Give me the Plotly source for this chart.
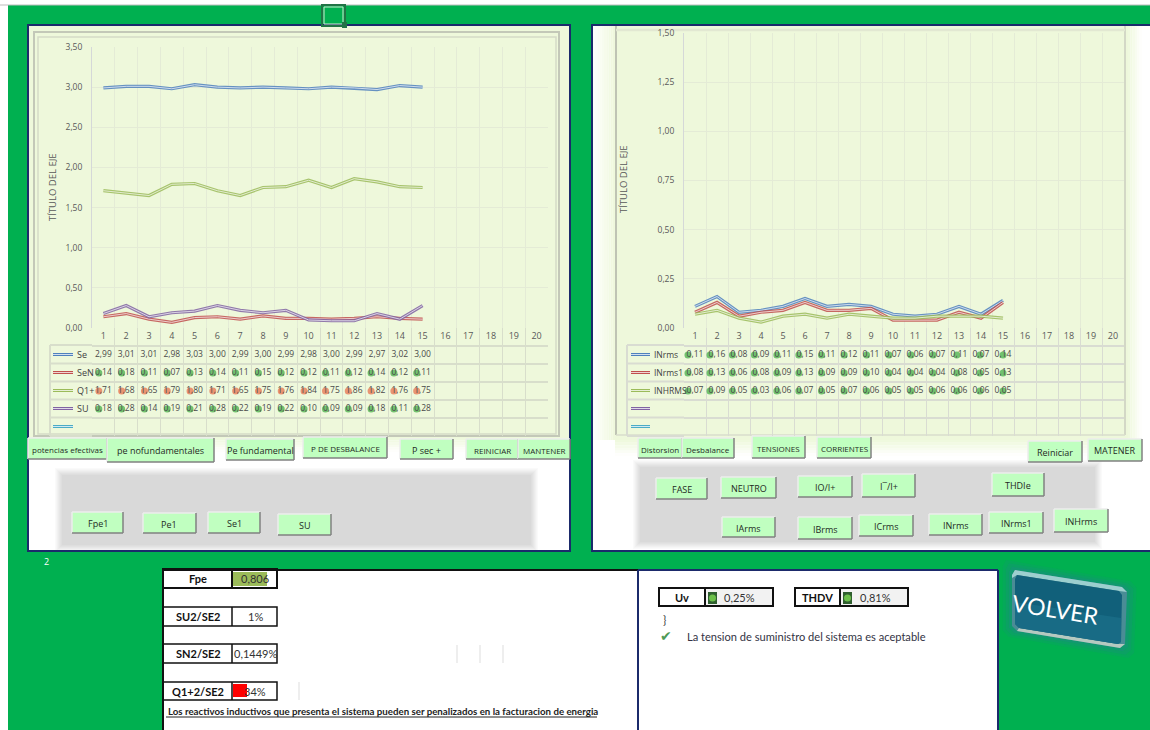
import plotly.graph_objects as go

W, H = 1150, 730
categories = list(range(1, 21))
header_labels = [str(c) for c in categories]
points = list(range(1, 16))

se = [2.99, 3.01, 3.01, 2.98, 3.03, 3.00, 2.99, 3.00, 2.99, 2.98, 3.00, 2.99, 2.97, 3.02, 3.00]
sen = [0.14, 0.18, 0.11, 0.07, 0.13, 0.14, 0.11, 0.15, 0.12, 0.12, 0.11, 0.12, 0.14, 0.12, 0.11]
q1 = [1.71, 1.68, 1.65, 1.79, 1.80, 1.71, 1.65, 1.75, 1.76, 1.84, 1.75, 1.86, 1.82, 1.76, 1.75]
su = [0.18, 0.28, 0.14, 0.19, 0.21, 0.28, 0.22, 0.19, 0.22, 0.10, 0.09, 0.09, 0.18, 0.11, 0.28]

inrms = [0.11, 0.16, 0.08, 0.09, 0.11, 0.15, 0.11, 0.12, 0.11, 0.07, 0.06, 0.07, 0.11, 0.07, 0.14]
inrms1 = [0.08, 0.13, 0.06, 0.08, 0.09, 0.13, 0.09, 0.09, 0.10, 0.04, 0.04, 0.04, 0.08, 0.05, 0.13]
inhrms = [0.07, 0.09, 0.05, 0.03, 0.06, 0.07, 0.05, 0.07, 0.06, 0.05, 0.05, 0.06, 0.06, 0.06, 0.05]

BLUE, RED, OLIVE, PURPLE, CYAN = "#4F81BD", "#C0504D", "#9BBB59", "#8064A2", "#4BACC6"
left_series = [("Se", se, BLUE, None), ("SeN", sen, RED, "#5CB85C"), ("Q1+", q1, OLIVE, "#E8835F"), ("SU", su, PURPLE, "#5CB85C")]
right_series = [("INrms", inrms, BLUE, "#5CB85C"), ("INrms1", inrms1, RED, "#5CB85C"), ("INHRMS", inhrms, OLIVE, "#5CB85C")]

GREEN, NAVY, PALE, BTN = "#00B050", "#1B2A6B", "#EEF8DB", "#C0FFC0"
FONT = "Open Sans"
CELL = "Lato"
shapes, notes = [], []


def X(x):
    return x / W


def Y(y):
    return 1 - y / H


def rect(x0, y0, x1, y1, fill=None, line=None, lw=1, op=None):
    s = dict(type="rect", xref="paper", yref="paper", x0=X(x0), x1=X(x1), y0=Y(y0), y1=Y(y1), layer="below",
             fillcolor=fill or "rgba(0,0,0,0)", line=dict(color=line or "rgba(0,0,0,0)", width=lw if line else 0))
    if op is not None:
        s["opacity"] = op
    shapes.append(s)


def seg(x0, y0, x1, y1, color, lw=1):
    shapes.append(dict(type="line", xref="paper", yref="paper", x0=X(x0), x1=X(x1), y0=Y(y0), y1=Y(y1),
                       layer="below", line=dict(color=color, width=lw)))


def poly(pts, fill, op=1.0, line=None, lw=0):
    d = "M " + " L ".join(f"{X(a):.5f},{Y(b):.5f}" for a, b in pts) + " Z"
    shapes.append(dict(type="path", path=d, xref="paper", yref="paper", layer="below", fillcolor=fill, opacity=op,
                       line=dict(color=line or "rgba(0,0,0,0)", width=lw)))


def text(x, y, t, size=10, color="#333333", anchor="center", family=FONT, angle=0):
    notes.append(dict(xref="paper", yref="paper", x=X(x), y=Y(y), text=t, showarrow=False, xanchor=anchor,
                      yanchor="middle", textangle=angle, align=anchor if anchor != "center" else "center",
                      font=dict(size=size, color=color, family=family)))


def mix(a, b, t):
    ca = [int(a[i:i + 2], 16) for i in (1, 3, 5)]
    cb = [int(b[i:i + 2], 16) for i in (1, 3, 5)]
    return "#%02X%02X%02X" % tuple(round(p + (q - p) * t) for p, q in zip(ca, cb))


def gradient(x0, y0, x1, y1, c0, c1, horizontal=True, n=8):
    for i in range(n):
        t = (i + 0.5) / n
        if horizontal:
            rect(x0 + (x1 - x0) * i / n, y0, x0 + (x1 - x0) * (i + 1) / n, y1, mix(c0, c1, t))
        else:
            rect(x0, y0 + (y1 - y0) * i / n, x1, y0 + (y1 - y0) * (i + 1) / n, mix(c0, c1, t))


def soft_block(x0, y0, x1, y1, color="#D9D9D9", blur=7):
    for i in range(blur, 0, -1):
        rect(x0 - i + 2, y0 - i + 2, x1 + i - 2, y1 + i - 2, mix(color, "#FFFFFF", i / (blur + 1)))
    rect(x0 + 2, y0 + 2, x1 - 2, y1 - 2, color)


def button(label, x0, y0, x1, y1, size=9):
    rect(x0, y0, x1, y1, BTN)
    seg(x0, y0, x1, y0, "#EDEDED", 1.5)
    seg(x0, y0, x0, y1, "#EDEDED", 1.5)
    seg(x0, y1, x1, y1, "#808080", 1.5)
    seg(x1, y0, x1, y1, "#808080", 1.5)
    text((x0 + x1) / 2, (y0 + y1) / 2 + 1, label, size=size, color="#1F2A1F")


def double_glyph(x0, x1, y, color):
    yy = round(y) + 0.5
    seg(x0, yy, x1, yy, color, 3)
    seg(x0, yy, x1, yy, mix(color, "#FFFFFF", 0.75), 1)


# ---------- page ----------
rect(0, 0, W, H, "#FFFFFF")
rect(8, 5, W, H, GREEN)
seg(0, 5, W, 5, "#BDBDBD", 1)

# left panel
rect(28, 25, 570, 551, "#FFFFFF")
rect(29, 26, 569, 438, PALE)
gradient(29, 438, 569, 452, PALE, "#FFFFFF", horizontal=False, n=6)
rect(34, 32, 559, 436, None, "#C3C8B8", 2)
rect(38, 37, 556, 434, None, "#D5DAC8", 1.5)
soft_block(60, 473, 533, 547)
rect(28, 25, 570, 551, None, NAVY, 2)

# right panel
rect(592, 25, 1160, 551, "#FFFFFF")
gradient(593, 26, 615, 440, "#FFFFFF", PALE, horizontal=True, n=10)
rect(615, 26, 1128, 440, PALE)
gradient(1128, 26, 1142, 440, PALE, "#FFFFFF", horizontal=True, n=6)
gradient(615, 440, 1128, 456, PALE, "#FFFFFF", horizontal=False, n=6)
seg(616, 26, 616, 435, "#BFC4B4", 2)
seg(1125, 26, 1125, 435, "#D3D8C6", 2)
seg(616, 435, 1125, 435, "#D9DECC", 1.5)
seg(616, 30, 1125, 30, "#E2E8D2", 2.5)
soft_block(638, 465, 1097, 544)
rect(592, 25, 1160, 551, None, NAVY, 2)

# ---------- tables, left column ----------
row_lines = [345, 363.5, 381.5, 399.5, 417.5, 436]
for y in row_lines:
    seg(50, y, 92, y, "#D8DECB", 2)
    seg(627, y, 684, y, "#D9DCD2", 2)
seg(50, 345, 50, 436, "#D8DECB", 2)
seg(627, 345, 627, 436, "#D9DCD2", 2)

left_legend = [(s[0], s[2]) for s in left_series] + [("", CYAN)]
for (name, color), y in zip(left_legend, [354, 372.5, 390.5, 408, 425.5]):
    double_glyph(53, 73, y, color)
    text(75, y, name, 9, "#404040", "left")
right_legend = [(s[0], s[2]) for s in right_series] + [("", PURPLE), ("", CYAN)]
for (name, color), y in zip(right_legend, [354, 372, 390, 408, 425.5]):
    double_glyph(631, 650, y, color)
    text(652, y, name, 8.5, "#404040", "left")

# ---------- axis titles ----------
text(52, 187, "TÍTULO DEL EJE", 9.5, "#595959", angle=-90)
text(623, 179, "TÍTULO DEL EJE", 9.5, "#595959", angle=-90)

# ---------- buttons ----------
buttons = [
    ("potencias efectivas", 28, 438, 107, 459), ("pe nofundamentales", 107, 438, 214, 462),
    ("Pe fundamental", 226, 439, 294, 460), ("P DE DESBALANCE", 303, 437, 387, 458), ("P sec +", 400, 439, 453, 459),
    ("REINICIAR", 466, 439, 518, 459), ("MANTENER", 518, 439, 570, 459),
    ("Fpe1", 72, 512, 123, 533), ("Pe1", 143, 513, 196, 533), ("Se1", 208, 512, 260, 533), ("SU", 278, 514, 331, 535),
    ("Distorsion", 638, 438, 682, 458), ("Desbalance", 682, 438, 734, 458), ("TENSIONES", 752, 436, 805, 458),
    ("CORRIENTES", 817, 437, 871, 458), ("FASE", 656, 478, 707, 499), ("NEUTRO", 721, 477, 776, 498),
    ("IO/I+", 798, 476, 852, 497), ("I¯/I+", 862, 474, 915, 497), ("THDIe", 992, 473, 1044, 496),
    ("IArms", 722, 517, 775, 537), ("IBrms", 798, 517, 852, 539), ("ICrms", 859, 515, 913, 536),
    ("INrms", 929, 514, 982, 535), ("INrms1", 989, 512, 1043, 533), ("INHrms", 1054, 509, 1108, 532),
    ("Reiniciar", 1028, 441, 1082, 462), ("MATENER", 1088, 439, 1142, 461),
]
for b in buttons:
    size = 8 if b[0] in ("potencias efectivas", "Distorsion", "Desbalance", "MANTENER", "REINICIAR", "P DE DESBALANCE", "CORRIENTES", "TENSIONES") else 9
    button(*b, size=size)

# ---------- bottom panels ----------
text(46, 561, "2", 9, "#FFFFFF")
rect(164, 570, 638, H + 4, "#FFFFFF")
rect(638, 570, 998, H + 4, "#FFFFFF")
seg(163, 570, 638, 570, "#111111", 2)
seg(638, 570, 998, 570, NAVY, 2)
seg(163, 570, 163, H, "#111111", 2)
seg(638, 570, 638, H, NAVY, 2)
seg(998, 570, 998, H, NAVY, 2)

kpi_rows = [("Fpe", "0,806", 569, 588, 2), ("SU2/SE2", "1%", 607, 626, 1.5), ("SN2/SE2", "0,1449%", 644, 663, 1.5), ("Q1+2/SE2", "34%", 682, 700, 1.5)]
rect(233, 572, 267, 586, "#9BBB59")
rect(233, 684, 247, 697, "#FF0000")
for name, val, y0, y1, lw in kpi_rows:
    rect(163, y0, 277, y1, None, "#111111", lw)
    seg(232, y0, 232, y1, "#111111", lw)
    text(198, (y0 + y1) / 2, f"<b>{name}</b>", 11, "#111111", family=CELL)
    text(255, (y0 + y1) / 2, val, 11, "#333333", family=CELL)
for x in (457, 480, 503):
    seg(x, 645, x, 663, "#DDDDDD", 1)
seg(299, 682, 299, 700, "#DDDDDD", 1)
text(166, 711, "<b>Los reactivos inductivos que presenta el sistema pueden ser penalizados en la facturacion de energia</b>",
     9.7, "#222222", "left", family=CELL)
seg(166, 717, 597, 717, "#222222", 1)

for name, val, x0, xs, x1 in [("Uv", "0,25%", 659, 705, 773), ("THDV", "0,81%", 795, 840, 908)]:
    rect(xs, 588, x1, 606, "#F2F2F2")
    rect(x0, 588, x1, 606, None, "#111111", 2)
    seg(xs, 588, xs, 606, "#111111", 2)
    text((x0 + xs) / 2, 597.5, f"<b>{name}</b>", 11, "#111111", family=CELL)
    text(xs + 35, 597.5, val, 11, "#333333", family=CELL)
    rect(xs + 3, 592, xs + 12, 604, "#2F5F2F")
    shapes.append(dict(type="circle", xref="paper", yref="paper", x0=X(xs + 4), x1=X(xs + 11), y0=Y(594.5), y1=Y(601.5),
                       layer="below", fillcolor="#6CC04A", line=dict(width=0)))
text(664, 619, "}", 11, "#333333", family=CELL)
text(666, 636, "✔", 14, "#4E9A57", family="DejaVu Sans")
text(685, 636, "La tension de suministro del sistema es aceptable", 11.1, "#333344", "left", family=CELL)

# ---------- selected cell ----------
rect(322, 5, 345, 26, None, "#217346", 2)
rect(324, 7, 343, 24, None, "#CFE8D0", 1)
rect(342, 22, 347, 28, "#217346")

# ---------- VOLVER ----------
outline = [(1015, 570), (1122, 587), (1127, 592), (1125, 644), (1120, 648), (1017, 631), (1012, 626), (1012, 575)]
for grow, op in [(9, 0.12), (6, 0.16), (3, 0.22)]:
    poly([(1069 + (a - 1069) * (1 + grow / 55), 609 + (b - 609) * (1 + grow / 35)) for a, b in outline], "#2A7F9A", op)
poly(outline, "#4A8C96")
poly([(1015, 570), (1122, 587), (1127, 592), (1119, 591), (1017, 575), (1012, 578), (1012, 575)], "#9CCFCF")
poly([(1017, 631), (1120, 648), (1125, 644), (1118, 644), (1019, 628)], "#B5C9C0")
poly([(1017, 575), (1119, 591), (1122, 595), (1121, 642), (1118, 644), (1019, 628), (1015, 624), (1015, 579)], "#11607A")
poly([(1015, 602), (1121, 618), (1121, 642), (1118, 644), (1019, 628), (1015, 624)], "#1A6E88", 0.8)
text(1055, 609, "VOLVER", 23, "#FFFFFF", family=CELL, angle=9)

# ---------- figure ----------
fig = go.Figure()


def fmt(v):
    return f"{v:.2f}".replace(".", ",")


def add_panel(series, xa, ya, xt, yt, offsets):
    for name, vals, color, icon in series:
        fig.add_trace(go.Scatter(x=points, y=vals, xaxis=xa, yaxis=ya, mode="lines", name=name, showlegend=False,
                                 hoverinfo="skip", line=dict(color=color, width=3.2), opacity=0.85))
        fig.add_trace(go.Scatter(x=points, y=vals, xaxis=xa, yaxis=ya, mode="lines", showlegend=False,
                                 hoverinfo="skip", line=dict(color=mix(color, "#FFFFFF", 0.72), width=1)))
    fig.add_trace(go.Scatter(x=categories, y=[0] * 20, xaxis=xt, yaxis=yt, mode="text", text=header_labels,
                             showlegend=False, hoverinfo="skip", cliponaxis=False,
                             textfont=dict(size=9, color="#595959", family=FONT)))
    for r, (name, vals, color, icon) in enumerate(series, start=1):
        if icon:
            fig.add_trace(go.Scatter(x=[p + o for p, o in zip(points, offsets)], y=[r] * len(vals), xaxis=xt, yaxis=yt,
                                     mode="markers", showlegend=False, hoverinfo="skip",
                                     marker=dict(size=7, color=icon, opacity=0.85)))
        fig.add_trace(go.Scatter(x=points, y=[r] * len(vals), xaxis=xt, yaxis=yt, mode="text",
                                 text=[fmt(v) for v in vals], showlegend=False, hoverinfo="skip", cliponaxis=False,
                                 textfont=dict(size=8.5, color="#4A4A4A", family=FONT)))


left_offsets = [-0.2] * 10 + [-0.26] * 5
right_offsets = [-0.32, -0.32, -0.3, -0.3, -0.28, -0.28, -0.25, -0.22, -0.2, -0.18, -0.18, -0.18, -0.1, -0.05, 0]
add_panel(left_series, "x", "y", "x3", "y3", left_offsets)
add_panel(right_series, "x2", "y2", "x4", "y4", right_offsets)

bounds = [c - 0.5 for c in categories] + [20.5]
rows = [r - 0.5 for r in range(0, 7)]


def axis_x(x0, x1, anchor, grid):
    return dict(domain=[X(x0), X(x1)], range=[0.5, 20.5], anchor=anchor, tickmode="array", tickvals=bounds,
                showticklabels=False, ticks="", showgrid=True, gridcolor=grid, gridwidth=1, zeroline=False,
                showline=False, fixedrange=True)


def axis_y_plot(y0, y1, top, step, anchor):
    return dict(domain=[Y(y1), Y(y0)], range=[0, top], dtick=step, tick0=0, anchor=anchor, tickformat=".2f",
                showgrid=True, gridcolor="#E4EBD6", gridwidth=1, zeroline=False, showline=True, linecolor="#D5D8D8",
                linewidth=1, ticks="outside", ticklen=7, tickcolor="rgba(0,0,0,0)",
                tickfont=dict(size=8.5, color="#595959", family=FONT))


def axis_y_table(anchor, grid):
    return dict(domain=[Y(436), Y(328)], range=[5.5, -0.5], anchor=anchor, tickmode="array", tickvals=rows,
                showticklabels=False, ticks="", showgrid=True, gridcolor=grid, gridwidth=2, zeroline=False,
                showline=False, fixedrange=True)


fig.update_layout(
    width=W, height=H, autosize=False, margin=dict(l=0, r=0, t=0, b=0, pad=0, autoexpand=False), separators=",.",
    paper_bgcolor="#FFFFFF", plot_bgcolor="rgba(0,0,0,0)", showlegend=False, shapes=shapes, annotations=notes,
    font=dict(family=FONT),
    xaxis=axis_x(92, 548, "y", "#E4EBD6"), yaxis=axis_y_plot(47, 328, 3.5, 0.5, "x"),
    xaxis2=axis_x(684, 1124, "y2", "#E4EBD6"), yaxis2=axis_y_plot(33, 328, 1.5, 0.25, "x2"),
    xaxis3=axis_x(92, 548, "y3", "#D8DECB"), yaxis3=axis_y_table("x3", "#D8DECB"),
    xaxis4=axis_x(684, 1124, "y4", "#D9DCD2"), yaxis4=axis_y_table("x4", "#D9DCD2"),
)
fig.write_html("out.html", config={"displayModeBar": False},
               post_script="document.body.style.margin='0';document.body.style.overflow='hidden';")
